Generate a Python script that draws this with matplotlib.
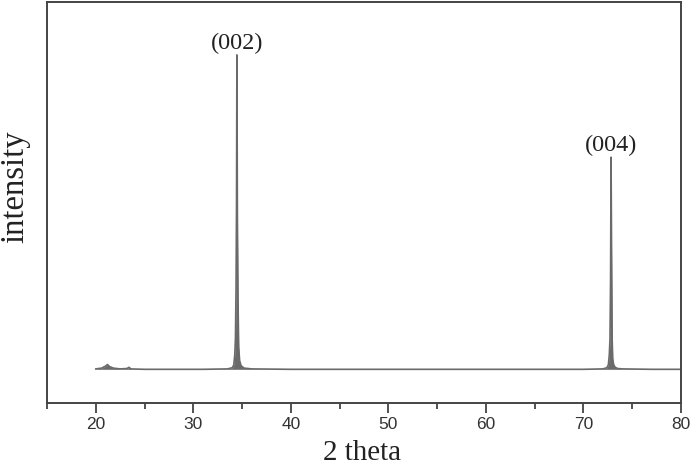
import matplotlib
matplotlib.use("Agg")
import matplotlib.pyplot as plt
from matplotlib.ticker import MultipleLocator

# 2-theta (deg) and intensity (a.u.)
two_theta = [20.0, 20.6, 21.0, 21.2, 21.4, 21.8, 22.5, 23.2, 23.4, 23.6, 25.0, 28.0, 31.0,
             33.5, 34.0, 34.15, 34.25, 34.32, 34.38, 34.43, 34.47, 34.52, 34.58, 34.65,
             34.75, 34.9, 35.2, 36.0, 40.0, 45.0, 50.0, 55.0, 60.0, 65.0, 70.0,
             72.0, 72.4, 72.55, 72.65, 72.72, 72.78, 72.83, 72.88, 72.94, 73.0, 73.1,
             73.25, 73.5, 74.0, 77.0, 80.0]
intensity = [0.085, 0.087, 0.092, 0.096, 0.091, 0.087, 0.085, 0.086, 0.089, 0.085, 0.084, 0.084, 0.084,
             0.085, 0.088, 0.095, 0.12, 0.16, 0.28, 0.49, 0.868, 0.46, 0.26, 0.14,
             0.105, 0.093, 0.087, 0.085, 0.084, 0.084, 0.084, 0.084, 0.084, 0.084, 0.084,
             0.085, 0.088, 0.095, 0.12, 0.16, 0.31, 0.613, 0.38, 0.16, 0.11, 0.095,
             0.089, 0.086, 0.085, 0.084, 0.084]

peak_labels = ["(002)", "(004)"]
peak_pos = [34.47, 72.83]
peak_int = [0.868, 0.613]

fig = plt.figure(figsize=(7.0, 4.67), dpi=100)
ax = fig.add_axes([47/700, 1-403/467, (681-47)/700, (403-2)/467])

ax.plot(two_theta, intensity, color="#6a6a6a", lw=1.2)
ax.fill_between(two_theta, 0.084, intensity, color="#6a6a6a", lw=0)

for lab, x, y in zip(peak_labels, peak_pos, peak_int):
    ax.text(x, y + 0.002, lab, ha="center", va="bottom",
            family="Liberation Serif", fontsize=17.5, color="#222222")

ax.set_xlim(15, 80)
ax.set_ylim(0, 1)
ax.xaxis.set_major_locator(MultipleLocator(10))
ax.xaxis.set_minor_locator(MultipleLocator(5))
ax.set_yticks([])
ax.tick_params(axis="x", which="major", direction="out", length=7, width=1.2,
               labelsize=12.5, color="#333333", labelcolor="#333333", pad=3)
ax.tick_params(axis="x", which="minor", direction="out", length=4.5, width=1.2, color="#333333")
for lbl in ax.get_xticklabels():
    lbl.set_family("Liberation Sans")
for s in ax.spines.values():
    s.set_linewidth(1.4)
    s.set_color("#444444")

fig.text(362/700, 1-460/467, "2 theta", ha="center", va="baseline",
         family="Liberation Serif", fontsize=21, color="#222222")
fig.text(15/700, 1-187/467, "intensity", rotation=90, ha="center", va="center",
         family="Liberation Serif", fontsize=23.5, color="#222222")

fig.savefig("out.png", dpi=100)
